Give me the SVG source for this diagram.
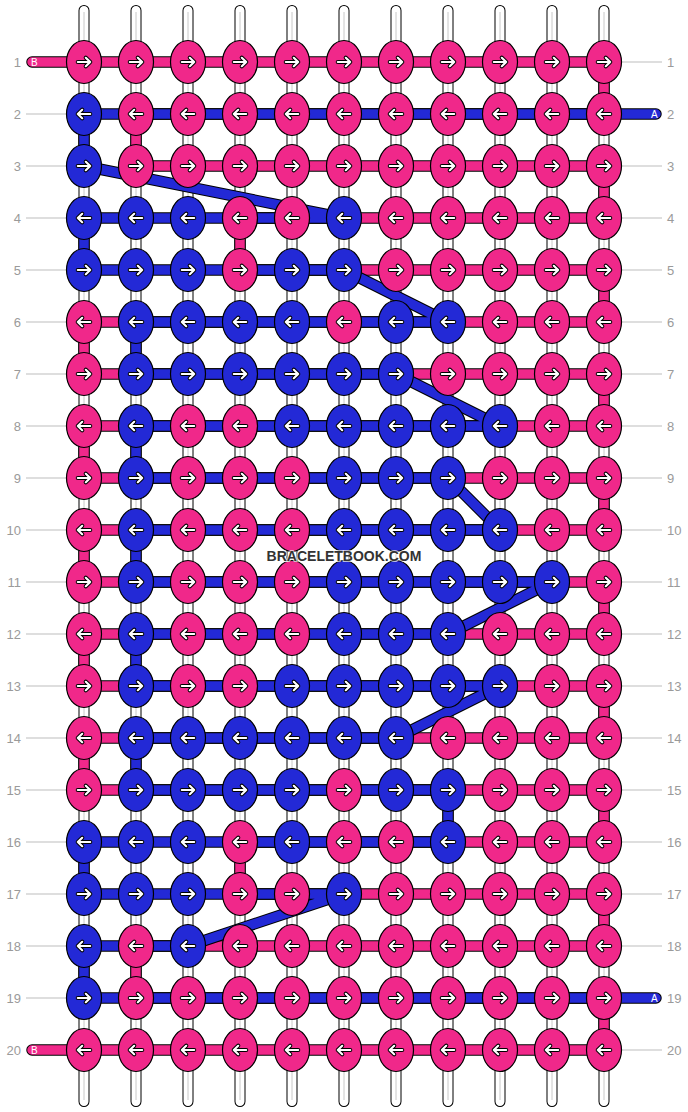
<svg xmlns="http://www.w3.org/2000/svg" xmlns:xlink="http://www.w3.org/1999/xlink" width="688" height="1112" viewBox="0 0 688 1112">
<style>
.sO{stroke:#000;stroke-width:11;stroke-linecap:round;fill:none}
.sW{stroke:#fff;stroke-width:9;stroke-linecap:round;fill:none}
.sG{stroke:#c8c8c8;stroke-width:1;fill:none}
.tO{stroke:#000;stroke-width:11.5;stroke-linecap:round;stroke-linejoin:round;fill:none}
.tP{stroke:#F0288A;stroke-width:9.5;stroke-linecap:round;stroke-linejoin:round;fill:none}
.tB{stroke:#2329D6;stroke-width:9.5;stroke-linecap:round;stroke-linejoin:round;fill:none}
.p{fill:#F0288A;stroke:#000;stroke-width:1.2}
.b{fill:#2329D6;stroke:#000;stroke-width:1.2}
.ll{stroke:#bdbdbd;stroke-width:1}
.lab{font-family:"Liberation Sans",Arial,sans-serif;font-size:13px;fill:#9a9a9a}
.tl{font-family:"Liberation Sans",Arial,sans-serif;font-size:10px;fill:#fff}
.wm{font-family:"Liberation Sans",Arial,sans-serif;font-size:14px;font-weight:bold;fill:#333;stroke:#fff;stroke-width:2;paint-order:stroke;stroke-opacity:0.7}
</style>
<defs>
<g id="ar">
<path d="M-6.2,0H6.2M1.8,-4.2L6.2,0L1.8,4.2" stroke="#000" stroke-width="4.2" fill="none" stroke-linecap="round" stroke-linejoin="round"/>
<path d="M-6.2,0H6.2M1.8,-4.2L6.2,0L1.8,4.2" stroke="#fff" stroke-width="2.2" fill="none" stroke-linecap="round" stroke-linejoin="round"/>
</g>
<g id="al"><use xlink:href="#ar" transform="scale(-1,1)"/></g>
</defs>
<rect width="688" height="1112" fill="#fff"/>
<g id="strings">
<path class="sO" d="M84,10.5V1101.5M136,10.5V1101.5M188,10.5V1101.5M240,10.5V1101.5M292,10.5V1101.5M344,10.5V1101.5M396,10.5V1101.5M448,10.5V1101.5M500,10.5V1101.5M552,10.5V1101.5M604,10.5V1101.5"/>
<path class="sW" d="M84,10.5V1101.5M136,10.5V1101.5M188,10.5V1101.5M240,10.5V1101.5M292,10.5V1101.5M344,10.5V1101.5M396,10.5V1101.5M448,10.5V1101.5M500,10.5V1101.5M552,10.5V1101.5M604,10.5V1101.5"/>
<path class="sG" d="M84,12V1100M136,12V1100M188,12V1100M240,12V1100M292,12V1100M344,12V1100M396,12V1100M448,12V1100M500,12V1100M552,12V1100M604,12V1100"/>
</g>
<g id="labels">
<path class="ll" d="M26,114H66M26,166H66M26,218H66M26,270H66M26,322H66M26,374H66M26,426H66M26,478H66M26,530H66M26,582H66M26,634H66M26,686H66M26,738H66M26,790H66M26,842H66M26,894H66M26,946H66M26,998H66"/>
<path class="ll" d="M622,62H662M622,166H662M622,218H662M622,270H662M622,322H662M622,374H662M622,426H662M622,478H662M622,530H662M622,582H662M622,634H662M622,686H662M622,738H662M622,790H662M622,842H662M622,894H662M622,946H662M622,1050H662"/>
<g class="lab" text-anchor="end">
<text x="21" y="67">1</text><text x="21" y="119">2</text><text x="21" y="171">3</text><text x="21" y="223">4</text><text x="21" y="275">5</text><text x="21" y="327">6</text><text x="21" y="379">7</text><text x="21" y="431">8</text><text x="21" y="483">9</text><text x="21" y="535">10</text><text x="21" y="587">11</text><text x="21" y="639">12</text><text x="21" y="691">13</text><text x="21" y="743">14</text><text x="21" y="795">15</text><text x="21" y="847">16</text><text x="21" y="899">17</text><text x="21" y="951">18</text><text x="21" y="1003">19</text><text x="21" y="1055">20</text>
</g>
<g class="lab">
<text x="667" y="67">1</text><text x="667" y="119">2</text><text x="667" y="171">3</text><text x="667" y="223">4</text><text x="667" y="275">5</text><text x="667" y="327">6</text><text x="667" y="379">7</text><text x="667" y="431">8</text><text x="667" y="483">9</text><text x="667" y="535">10</text><text x="667" y="587">11</text><text x="667" y="639">12</text><text x="667" y="691">13</text><text x="667" y="743">14</text><text x="667" y="795">15</text><text x="667" y="847">16</text><text x="667" y="899">17</text><text x="667" y="951">18</text><text x="667" y="1003">19</text><text x="667" y="1055">20</text>
</g>
</g>
<g id="connectors">
<polyline id="threadB-outline" class="tO" points="32,62 604,62 604,114 136,114 136,166 604,166 604,218 240,218 240,270 604,270 604,322 84,322 84,374 604,374 604,426 84,426 84,478 604,478 604,530 84,530 84,582 604,582 604,634 84,634 84,686 604,686 604,738 84,738 84,790 604,790 604,842 240,842 240,894 604,894 604,946 136,946 136,998 604,998 604,1050 32,1050"/>
<polyline id="threadB" class="tP" points="32,62 604,62 604,114 136,114 136,166 604,166 604,218 240,218 240,270 604,270 604,322 84,322 84,374 604,374 604,426 84,426 84,478 604,478 604,530 84,530 84,582 604,582 604,634 84,634 84,686 604,686 604,738 84,738 84,790 604,790 604,842 240,842 240,894 604,894 604,946 136,946 136,998 604,998 604,1050 32,1050"/>
<polyline id="threadA-outline" class="tO" points="656,114 84,114 84,166 344,218 84,218 84,270 344,270 448,322 136,322 136,374 396,374 500,426 136,426 136,478 448,478 500,530 136,530 136,582 552,582 448,634 136,634 136,686 500,686 396,738 136,738 136,790 448,790 448,842 84,842 84,894 344,894 188,946 84,946 84,998 656,998"/>
<polyline id="threadA" class="tB" points="656,114 84,114 84,166 344,218 84,218 84,270 344,270 448,322 136,322 136,374 396,374 500,426 136,426 136,478 448,478 500,530 136,530 136,582 552,582 448,634 136,634 136,686 500,686 396,738 136,738 136,790 448,790 448,842 84,842 84,894 344,894 188,946 84,946 84,998 656,998"/>
<text class="tl" x="31" y="66">B</text>
<text class="tl" x="31" y="1054">B</text>
<text class="tl" x="651" y="118">A</text>
<text class="tl" x="651" y="1002">A</text>
</g>
<g id="knots">
<g id="k1-1" transform="translate(84,62)"><ellipse class="p" rx="17.5" ry="21.5"/><use xlink:href="#ar"/></g>
<g id="k1-2" transform="translate(136,62)"><ellipse class="p" rx="17.5" ry="21.5"/><use xlink:href="#ar"/></g>
<g id="k1-3" transform="translate(188,62)"><ellipse class="p" rx="17.5" ry="21.5"/><use xlink:href="#ar"/></g>
<g id="k1-4" transform="translate(240,62)"><ellipse class="p" rx="17.5" ry="21.5"/><use xlink:href="#ar"/></g>
<g id="k1-5" transform="translate(292,62)"><ellipse class="p" rx="17.5" ry="21.5"/><use xlink:href="#ar"/></g>
<g id="k1-6" transform="translate(344,62)"><ellipse class="p" rx="17.5" ry="21.5"/><use xlink:href="#ar"/></g>
<g id="k1-7" transform="translate(396,62)"><ellipse class="p" rx="17.5" ry="21.5"/><use xlink:href="#ar"/></g>
<g id="k1-8" transform="translate(448,62)"><ellipse class="p" rx="17.5" ry="21.5"/><use xlink:href="#ar"/></g>
<g id="k1-9" transform="translate(500,62)"><ellipse class="p" rx="17.5" ry="21.5"/><use xlink:href="#ar"/></g>
<g id="k1-10" transform="translate(552,62)"><ellipse class="p" rx="17.5" ry="21.5"/><use xlink:href="#ar"/></g>
<g id="k1-11" transform="translate(604,62)"><ellipse class="p" rx="17.5" ry="21.5"/><use xlink:href="#ar"/></g>
<g id="k2-1" transform="translate(84,114)"><ellipse class="b" rx="17.5" ry="21.5"/><use xlink:href="#al"/></g>
<g id="k2-2" transform="translate(136,114)"><ellipse class="p" rx="17.5" ry="21.5"/><use xlink:href="#al"/></g>
<g id="k2-3" transform="translate(188,114)"><ellipse class="p" rx="17.5" ry="21.5"/><use xlink:href="#al"/></g>
<g id="k2-4" transform="translate(240,114)"><ellipse class="p" rx="17.5" ry="21.5"/><use xlink:href="#al"/></g>
<g id="k2-5" transform="translate(292,114)"><ellipse class="p" rx="17.5" ry="21.5"/><use xlink:href="#al"/></g>
<g id="k2-6" transform="translate(344,114)"><ellipse class="p" rx="17.5" ry="21.5"/><use xlink:href="#al"/></g>
<g id="k2-7" transform="translate(396,114)"><ellipse class="p" rx="17.5" ry="21.5"/><use xlink:href="#al"/></g>
<g id="k2-8" transform="translate(448,114)"><ellipse class="p" rx="17.5" ry="21.5"/><use xlink:href="#al"/></g>
<g id="k2-9" transform="translate(500,114)"><ellipse class="p" rx="17.5" ry="21.5"/><use xlink:href="#al"/></g>
<g id="k2-10" transform="translate(552,114)"><ellipse class="p" rx="17.5" ry="21.5"/><use xlink:href="#al"/></g>
<g id="k2-11" transform="translate(604,114)"><ellipse class="p" rx="17.5" ry="21.5"/><use xlink:href="#al"/></g>
<g id="k3-1" transform="translate(84,166)"><ellipse class="b" rx="17.5" ry="21.5"/><use xlink:href="#ar"/></g>
<g id="k3-2" transform="translate(136,166)"><ellipse class="p" rx="17.5" ry="21.5"/><use xlink:href="#ar"/></g>
<g id="k3-3" transform="translate(188,166)"><ellipse class="p" rx="17.5" ry="21.5"/><use xlink:href="#ar"/></g>
<g id="k3-4" transform="translate(240,166)"><ellipse class="p" rx="17.5" ry="21.5"/><use xlink:href="#ar"/></g>
<g id="k3-5" transform="translate(292,166)"><ellipse class="p" rx="17.5" ry="21.5"/><use xlink:href="#ar"/></g>
<g id="k3-6" transform="translate(344,166)"><ellipse class="p" rx="17.5" ry="21.5"/><use xlink:href="#ar"/></g>
<g id="k3-7" transform="translate(396,166)"><ellipse class="p" rx="17.5" ry="21.5"/><use xlink:href="#ar"/></g>
<g id="k3-8" transform="translate(448,166)"><ellipse class="p" rx="17.5" ry="21.5"/><use xlink:href="#ar"/></g>
<g id="k3-9" transform="translate(500,166)"><ellipse class="p" rx="17.5" ry="21.5"/><use xlink:href="#ar"/></g>
<g id="k3-10" transform="translate(552,166)"><ellipse class="p" rx="17.5" ry="21.5"/><use xlink:href="#ar"/></g>
<g id="k3-11" transform="translate(604,166)"><ellipse class="p" rx="17.5" ry="21.5"/><use xlink:href="#ar"/></g>
<g id="k4-1" transform="translate(84,218)"><ellipse class="b" rx="17.5" ry="21.5"/><use xlink:href="#al"/></g>
<g id="k4-2" transform="translate(136,218)"><ellipse class="b" rx="17.5" ry="21.5"/><use xlink:href="#al"/></g>
<g id="k4-3" transform="translate(188,218)"><ellipse class="b" rx="17.5" ry="21.5"/><use xlink:href="#al"/></g>
<g id="k4-4" transform="translate(240,218)"><ellipse class="p" rx="17.5" ry="21.5"/><use xlink:href="#al"/></g>
<g id="k4-5" transform="translate(292,218)"><ellipse class="p" rx="17.5" ry="21.5"/><use xlink:href="#al"/></g>
<g id="k4-6" transform="translate(344,218)"><ellipse class="b" rx="17.5" ry="21.5"/><use xlink:href="#al"/></g>
<g id="k4-7" transform="translate(396,218)"><ellipse class="p" rx="17.5" ry="21.5"/><use xlink:href="#al"/></g>
<g id="k4-8" transform="translate(448,218)"><ellipse class="p" rx="17.5" ry="21.5"/><use xlink:href="#al"/></g>
<g id="k4-9" transform="translate(500,218)"><ellipse class="p" rx="17.5" ry="21.5"/><use xlink:href="#al"/></g>
<g id="k4-10" transform="translate(552,218)"><ellipse class="p" rx="17.5" ry="21.5"/><use xlink:href="#al"/></g>
<g id="k4-11" transform="translate(604,218)"><ellipse class="p" rx="17.5" ry="21.5"/><use xlink:href="#al"/></g>
<g id="k5-1" transform="translate(84,270)"><ellipse class="b" rx="17.5" ry="21.5"/><use xlink:href="#ar"/></g>
<g id="k5-2" transform="translate(136,270)"><ellipse class="b" rx="17.5" ry="21.5"/><use xlink:href="#ar"/></g>
<g id="k5-3" transform="translate(188,270)"><ellipse class="b" rx="17.5" ry="21.5"/><use xlink:href="#ar"/></g>
<g id="k5-4" transform="translate(240,270)"><ellipse class="p" rx="17.5" ry="21.5"/><use xlink:href="#ar"/></g>
<g id="k5-5" transform="translate(292,270)"><ellipse class="b" rx="17.5" ry="21.5"/><use xlink:href="#ar"/></g>
<g id="k5-6" transform="translate(344,270)"><ellipse class="b" rx="17.5" ry="21.5"/><use xlink:href="#ar"/></g>
<g id="k5-7" transform="translate(396,270)"><ellipse class="p" rx="17.5" ry="21.5"/><use xlink:href="#ar"/></g>
<g id="k5-8" transform="translate(448,270)"><ellipse class="p" rx="17.5" ry="21.5"/><use xlink:href="#ar"/></g>
<g id="k5-9" transform="translate(500,270)"><ellipse class="p" rx="17.5" ry="21.5"/><use xlink:href="#ar"/></g>
<g id="k5-10" transform="translate(552,270)"><ellipse class="p" rx="17.5" ry="21.5"/><use xlink:href="#ar"/></g>
<g id="k5-11" transform="translate(604,270)"><ellipse class="p" rx="17.5" ry="21.5"/><use xlink:href="#ar"/></g>
<g id="k6-1" transform="translate(84,322)"><ellipse class="p" rx="17.5" ry="21.5"/><use xlink:href="#al"/></g>
<g id="k6-2" transform="translate(136,322)"><ellipse class="b" rx="17.5" ry="21.5"/><use xlink:href="#al"/></g>
<g id="k6-3" transform="translate(188,322)"><ellipse class="b" rx="17.5" ry="21.5"/><use xlink:href="#al"/></g>
<g id="k6-4" transform="translate(240,322)"><ellipse class="b" rx="17.5" ry="21.5"/><use xlink:href="#al"/></g>
<g id="k6-5" transform="translate(292,322)"><ellipse class="b" rx="17.5" ry="21.5"/><use xlink:href="#al"/></g>
<g id="k6-6" transform="translate(344,322)"><ellipse class="p" rx="17.5" ry="21.5"/><use xlink:href="#al"/></g>
<g id="k6-7" transform="translate(396,322)"><ellipse class="b" rx="17.5" ry="21.5"/><use xlink:href="#al"/></g>
<g id="k6-8" transform="translate(448,322)"><ellipse class="b" rx="17.5" ry="21.5"/><use xlink:href="#al"/></g>
<g id="k6-9" transform="translate(500,322)"><ellipse class="p" rx="17.5" ry="21.5"/><use xlink:href="#al"/></g>
<g id="k6-10" transform="translate(552,322)"><ellipse class="p" rx="17.5" ry="21.5"/><use xlink:href="#al"/></g>
<g id="k6-11" transform="translate(604,322)"><ellipse class="p" rx="17.5" ry="21.5"/><use xlink:href="#al"/></g>
<g id="k7-1" transform="translate(84,374)"><ellipse class="p" rx="17.5" ry="21.5"/><use xlink:href="#ar"/></g>
<g id="k7-2" transform="translate(136,374)"><ellipse class="b" rx="17.5" ry="21.5"/><use xlink:href="#ar"/></g>
<g id="k7-3" transform="translate(188,374)"><ellipse class="b" rx="17.5" ry="21.5"/><use xlink:href="#ar"/></g>
<g id="k7-4" transform="translate(240,374)"><ellipse class="b" rx="17.5" ry="21.5"/><use xlink:href="#ar"/></g>
<g id="k7-5" transform="translate(292,374)"><ellipse class="b" rx="17.5" ry="21.5"/><use xlink:href="#ar"/></g>
<g id="k7-6" transform="translate(344,374)"><ellipse class="b" rx="17.5" ry="21.5"/><use xlink:href="#ar"/></g>
<g id="k7-7" transform="translate(396,374)"><ellipse class="b" rx="17.5" ry="21.5"/><use xlink:href="#ar"/></g>
<g id="k7-8" transform="translate(448,374)"><ellipse class="p" rx="17.5" ry="21.5"/><use xlink:href="#ar"/></g>
<g id="k7-9" transform="translate(500,374)"><ellipse class="p" rx="17.5" ry="21.5"/><use xlink:href="#ar"/></g>
<g id="k7-10" transform="translate(552,374)"><ellipse class="p" rx="17.5" ry="21.5"/><use xlink:href="#ar"/></g>
<g id="k7-11" transform="translate(604,374)"><ellipse class="p" rx="17.5" ry="21.5"/><use xlink:href="#ar"/></g>
<g id="k8-1" transform="translate(84,426)"><ellipse class="p" rx="17.5" ry="21.5"/><use xlink:href="#al"/></g>
<g id="k8-2" transform="translate(136,426)"><ellipse class="b" rx="17.5" ry="21.5"/><use xlink:href="#al"/></g>
<g id="k8-3" transform="translate(188,426)"><ellipse class="p" rx="17.5" ry="21.5"/><use xlink:href="#al"/></g>
<g id="k8-4" transform="translate(240,426)"><ellipse class="p" rx="17.5" ry="21.5"/><use xlink:href="#al"/></g>
<g id="k8-5" transform="translate(292,426)"><ellipse class="b" rx="17.5" ry="21.5"/><use xlink:href="#al"/></g>
<g id="k8-6" transform="translate(344,426)"><ellipse class="b" rx="17.5" ry="21.5"/><use xlink:href="#al"/></g>
<g id="k8-7" transform="translate(396,426)"><ellipse class="b" rx="17.5" ry="21.5"/><use xlink:href="#al"/></g>
<g id="k8-8" transform="translate(448,426)"><ellipse class="b" rx="17.5" ry="21.5"/><use xlink:href="#al"/></g>
<g id="k8-9" transform="translate(500,426)"><ellipse class="b" rx="17.5" ry="21.5"/><use xlink:href="#al"/></g>
<g id="k8-10" transform="translate(552,426)"><ellipse class="p" rx="17.5" ry="21.5"/><use xlink:href="#al"/></g>
<g id="k8-11" transform="translate(604,426)"><ellipse class="p" rx="17.5" ry="21.5"/><use xlink:href="#al"/></g>
<g id="k9-1" transform="translate(84,478)"><ellipse class="p" rx="17.5" ry="21.5"/><use xlink:href="#ar"/></g>
<g id="k9-2" transform="translate(136,478)"><ellipse class="b" rx="17.5" ry="21.5"/><use xlink:href="#ar"/></g>
<g id="k9-3" transform="translate(188,478)"><ellipse class="p" rx="17.5" ry="21.5"/><use xlink:href="#ar"/></g>
<g id="k9-4" transform="translate(240,478)"><ellipse class="p" rx="17.5" ry="21.5"/><use xlink:href="#ar"/></g>
<g id="k9-5" transform="translate(292,478)"><ellipse class="p" rx="17.5" ry="21.5"/><use xlink:href="#ar"/></g>
<g id="k9-6" transform="translate(344,478)"><ellipse class="b" rx="17.5" ry="21.5"/><use xlink:href="#ar"/></g>
<g id="k9-7" transform="translate(396,478)"><ellipse class="b" rx="17.5" ry="21.5"/><use xlink:href="#ar"/></g>
<g id="k9-8" transform="translate(448,478)"><ellipse class="b" rx="17.5" ry="21.5"/><use xlink:href="#ar"/></g>
<g id="k9-9" transform="translate(500,478)"><ellipse class="p" rx="17.5" ry="21.5"/><use xlink:href="#ar"/></g>
<g id="k9-10" transform="translate(552,478)"><ellipse class="p" rx="17.5" ry="21.5"/><use xlink:href="#ar"/></g>
<g id="k9-11" transform="translate(604,478)"><ellipse class="p" rx="17.5" ry="21.5"/><use xlink:href="#ar"/></g>
<g id="k10-1" transform="translate(84,530)"><ellipse class="p" rx="17.5" ry="21.5"/><use xlink:href="#al"/></g>
<g id="k10-2" transform="translate(136,530)"><ellipse class="b" rx="17.5" ry="21.5"/><use xlink:href="#al"/></g>
<g id="k10-3" transform="translate(188,530)"><ellipse class="p" rx="17.5" ry="21.5"/><use xlink:href="#al"/></g>
<g id="k10-4" transform="translate(240,530)"><ellipse class="p" rx="17.5" ry="21.5"/><use xlink:href="#al"/></g>
<g id="k10-5" transform="translate(292,530)"><ellipse class="p" rx="17.5" ry="21.5"/><use xlink:href="#al"/></g>
<g id="k10-6" transform="translate(344,530)"><ellipse class="b" rx="17.5" ry="21.5"/><use xlink:href="#al"/></g>
<g id="k10-7" transform="translate(396,530)"><ellipse class="b" rx="17.5" ry="21.5"/><use xlink:href="#al"/></g>
<g id="k10-8" transform="translate(448,530)"><ellipse class="b" rx="17.5" ry="21.5"/><use xlink:href="#al"/></g>
<g id="k10-9" transform="translate(500,530)"><ellipse class="b" rx="17.5" ry="21.5"/><use xlink:href="#al"/></g>
<g id="k10-10" transform="translate(552,530)"><ellipse class="p" rx="17.5" ry="21.5"/><use xlink:href="#al"/></g>
<g id="k10-11" transform="translate(604,530)"><ellipse class="p" rx="17.5" ry="21.5"/><use xlink:href="#al"/></g>
<g id="k11-1" transform="translate(84,582)"><ellipse class="p" rx="17.5" ry="21.5"/><use xlink:href="#ar"/></g>
<g id="k11-2" transform="translate(136,582)"><ellipse class="b" rx="17.5" ry="21.5"/><use xlink:href="#ar"/></g>
<g id="k11-3" transform="translate(188,582)"><ellipse class="p" rx="17.5" ry="21.5"/><use xlink:href="#ar"/></g>
<g id="k11-4" transform="translate(240,582)"><ellipse class="p" rx="17.5" ry="21.5"/><use xlink:href="#ar"/></g>
<g id="k11-5" transform="translate(292,582)"><ellipse class="p" rx="17.5" ry="21.5"/><use xlink:href="#ar"/></g>
<g id="k11-6" transform="translate(344,582)"><ellipse class="b" rx="17.5" ry="21.5"/><use xlink:href="#ar"/></g>
<g id="k11-7" transform="translate(396,582)"><ellipse class="b" rx="17.5" ry="21.5"/><use xlink:href="#ar"/></g>
<g id="k11-8" transform="translate(448,582)"><ellipse class="b" rx="17.5" ry="21.5"/><use xlink:href="#ar"/></g>
<g id="k11-9" transform="translate(500,582)"><ellipse class="b" rx="17.5" ry="21.5"/><use xlink:href="#ar"/></g>
<g id="k11-10" transform="translate(552,582)"><ellipse class="b" rx="17.5" ry="21.5"/><use xlink:href="#ar"/></g>
<g id="k11-11" transform="translate(604,582)"><ellipse class="p" rx="17.5" ry="21.5"/><use xlink:href="#ar"/></g>
<g id="k12-1" transform="translate(84,634)"><ellipse class="p" rx="17.5" ry="21.5"/><use xlink:href="#al"/></g>
<g id="k12-2" transform="translate(136,634)"><ellipse class="b" rx="17.5" ry="21.5"/><use xlink:href="#al"/></g>
<g id="k12-3" transform="translate(188,634)"><ellipse class="p" rx="17.5" ry="21.5"/><use xlink:href="#al"/></g>
<g id="k12-4" transform="translate(240,634)"><ellipse class="p" rx="17.5" ry="21.5"/><use xlink:href="#al"/></g>
<g id="k12-5" transform="translate(292,634)"><ellipse class="p" rx="17.5" ry="21.5"/><use xlink:href="#al"/></g>
<g id="k12-6" transform="translate(344,634)"><ellipse class="b" rx="17.5" ry="21.5"/><use xlink:href="#al"/></g>
<g id="k12-7" transform="translate(396,634)"><ellipse class="b" rx="17.5" ry="21.5"/><use xlink:href="#al"/></g>
<g id="k12-8" transform="translate(448,634)"><ellipse class="b" rx="17.5" ry="21.5"/><use xlink:href="#al"/></g>
<g id="k12-9" transform="translate(500,634)"><ellipse class="p" rx="17.5" ry="21.5"/><use xlink:href="#al"/></g>
<g id="k12-10" transform="translate(552,634)"><ellipse class="p" rx="17.5" ry="21.5"/><use xlink:href="#al"/></g>
<g id="k12-11" transform="translate(604,634)"><ellipse class="p" rx="17.5" ry="21.5"/><use xlink:href="#al"/></g>
<g id="k13-1" transform="translate(84,686)"><ellipse class="p" rx="17.5" ry="21.5"/><use xlink:href="#ar"/></g>
<g id="k13-2" transform="translate(136,686)"><ellipse class="b" rx="17.5" ry="21.5"/><use xlink:href="#ar"/></g>
<g id="k13-3" transform="translate(188,686)"><ellipse class="p" rx="17.5" ry="21.5"/><use xlink:href="#ar"/></g>
<g id="k13-4" transform="translate(240,686)"><ellipse class="p" rx="17.5" ry="21.5"/><use xlink:href="#ar"/></g>
<g id="k13-5" transform="translate(292,686)"><ellipse class="b" rx="17.5" ry="21.5"/><use xlink:href="#ar"/></g>
<g id="k13-6" transform="translate(344,686)"><ellipse class="b" rx="17.5" ry="21.5"/><use xlink:href="#ar"/></g>
<g id="k13-7" transform="translate(396,686)"><ellipse class="b" rx="17.5" ry="21.5"/><use xlink:href="#ar"/></g>
<g id="k13-8" transform="translate(448,686)"><ellipse class="b" rx="17.5" ry="21.5"/><use xlink:href="#ar"/></g>
<g id="k13-9" transform="translate(500,686)"><ellipse class="b" rx="17.5" ry="21.5"/><use xlink:href="#ar"/></g>
<g id="k13-10" transform="translate(552,686)"><ellipse class="p" rx="17.5" ry="21.5"/><use xlink:href="#ar"/></g>
<g id="k13-11" transform="translate(604,686)"><ellipse class="p" rx="17.5" ry="21.5"/><use xlink:href="#ar"/></g>
<g id="k14-1" transform="translate(84,738)"><ellipse class="p" rx="17.5" ry="21.5"/><use xlink:href="#al"/></g>
<g id="k14-2" transform="translate(136,738)"><ellipse class="b" rx="17.5" ry="21.5"/><use xlink:href="#al"/></g>
<g id="k14-3" transform="translate(188,738)"><ellipse class="b" rx="17.5" ry="21.5"/><use xlink:href="#al"/></g>
<g id="k14-4" transform="translate(240,738)"><ellipse class="b" rx="17.5" ry="21.5"/><use xlink:href="#al"/></g>
<g id="k14-5" transform="translate(292,738)"><ellipse class="b" rx="17.5" ry="21.5"/><use xlink:href="#al"/></g>
<g id="k14-6" transform="translate(344,738)"><ellipse class="b" rx="17.5" ry="21.5"/><use xlink:href="#al"/></g>
<g id="k14-7" transform="translate(396,738)"><ellipse class="b" rx="17.5" ry="21.5"/><use xlink:href="#al"/></g>
<g id="k14-8" transform="translate(448,738)"><ellipse class="p" rx="17.5" ry="21.5"/><use xlink:href="#al"/></g>
<g id="k14-9" transform="translate(500,738)"><ellipse class="p" rx="17.5" ry="21.5"/><use xlink:href="#al"/></g>
<g id="k14-10" transform="translate(552,738)"><ellipse class="p" rx="17.5" ry="21.5"/><use xlink:href="#al"/></g>
<g id="k14-11" transform="translate(604,738)"><ellipse class="p" rx="17.5" ry="21.5"/><use xlink:href="#al"/></g>
<g id="k15-1" transform="translate(84,790)"><ellipse class="p" rx="17.5" ry="21.5"/><use xlink:href="#ar"/></g>
<g id="k15-2" transform="translate(136,790)"><ellipse class="b" rx="17.5" ry="21.5"/><use xlink:href="#ar"/></g>
<g id="k15-3" transform="translate(188,790)"><ellipse class="b" rx="17.5" ry="21.5"/><use xlink:href="#ar"/></g>
<g id="k15-4" transform="translate(240,790)"><ellipse class="b" rx="17.5" ry="21.5"/><use xlink:href="#ar"/></g>
<g id="k15-5" transform="translate(292,790)"><ellipse class="b" rx="17.5" ry="21.5"/><use xlink:href="#ar"/></g>
<g id="k15-6" transform="translate(344,790)"><ellipse class="p" rx="17.5" ry="21.5"/><use xlink:href="#ar"/></g>
<g id="k15-7" transform="translate(396,790)"><ellipse class="b" rx="17.5" ry="21.5"/><use xlink:href="#ar"/></g>
<g id="k15-8" transform="translate(448,790)"><ellipse class="b" rx="17.5" ry="21.5"/><use xlink:href="#ar"/></g>
<g id="k15-9" transform="translate(500,790)"><ellipse class="p" rx="17.5" ry="21.5"/><use xlink:href="#ar"/></g>
<g id="k15-10" transform="translate(552,790)"><ellipse class="p" rx="17.5" ry="21.5"/><use xlink:href="#ar"/></g>
<g id="k15-11" transform="translate(604,790)"><ellipse class="p" rx="17.5" ry="21.5"/><use xlink:href="#ar"/></g>
<g id="k16-1" transform="translate(84,842)"><ellipse class="b" rx="17.5" ry="21.5"/><use xlink:href="#al"/></g>
<g id="k16-2" transform="translate(136,842)"><ellipse class="b" rx="17.5" ry="21.5"/><use xlink:href="#al"/></g>
<g id="k16-3" transform="translate(188,842)"><ellipse class="b" rx="17.5" ry="21.5"/><use xlink:href="#al"/></g>
<g id="k16-4" transform="translate(240,842)"><ellipse class="p" rx="17.5" ry="21.5"/><use xlink:href="#al"/></g>
<g id="k16-5" transform="translate(292,842)"><ellipse class="b" rx="17.5" ry="21.5"/><use xlink:href="#al"/></g>
<g id="k16-6" transform="translate(344,842)"><ellipse class="p" rx="17.5" ry="21.5"/><use xlink:href="#al"/></g>
<g id="k16-7" transform="translate(396,842)"><ellipse class="p" rx="17.5" ry="21.5"/><use xlink:href="#al"/></g>
<g id="k16-8" transform="translate(448,842)"><ellipse class="b" rx="17.5" ry="21.5"/><use xlink:href="#al"/></g>
<g id="k16-9" transform="translate(500,842)"><ellipse class="p" rx="17.5" ry="21.5"/><use xlink:href="#al"/></g>
<g id="k16-10" transform="translate(552,842)"><ellipse class="p" rx="17.5" ry="21.5"/><use xlink:href="#al"/></g>
<g id="k16-11" transform="translate(604,842)"><ellipse class="p" rx="17.5" ry="21.5"/><use xlink:href="#al"/></g>
<g id="k17-1" transform="translate(84,894)"><ellipse class="b" rx="17.5" ry="21.5"/><use xlink:href="#ar"/></g>
<g id="k17-2" transform="translate(136,894)"><ellipse class="b" rx="17.5" ry="21.5"/><use xlink:href="#ar"/></g>
<g id="k17-3" transform="translate(188,894)"><ellipse class="b" rx="17.5" ry="21.5"/><use xlink:href="#ar"/></g>
<g id="k17-4" transform="translate(240,894)"><ellipse class="p" rx="17.5" ry="21.5"/><use xlink:href="#ar"/></g>
<g id="k17-5" transform="translate(292,894)"><ellipse class="p" rx="17.5" ry="21.5"/><use xlink:href="#ar"/></g>
<g id="k17-6" transform="translate(344,894)"><ellipse class="b" rx="17.5" ry="21.5"/><use xlink:href="#ar"/></g>
<g id="k17-7" transform="translate(396,894)"><ellipse class="p" rx="17.5" ry="21.5"/><use xlink:href="#ar"/></g>
<g id="k17-8" transform="translate(448,894)"><ellipse class="p" rx="17.5" ry="21.5"/><use xlink:href="#ar"/></g>
<g id="k17-9" transform="translate(500,894)"><ellipse class="p" rx="17.5" ry="21.5"/><use xlink:href="#ar"/></g>
<g id="k17-10" transform="translate(552,894)"><ellipse class="p" rx="17.5" ry="21.5"/><use xlink:href="#ar"/></g>
<g id="k17-11" transform="translate(604,894)"><ellipse class="p" rx="17.5" ry="21.5"/><use xlink:href="#ar"/></g>
<g id="k18-1" transform="translate(84,946)"><ellipse class="b" rx="17.5" ry="21.5"/><use xlink:href="#al"/></g>
<g id="k18-2" transform="translate(136,946)"><ellipse class="p" rx="17.5" ry="21.5"/><use xlink:href="#al"/></g>
<g id="k18-3" transform="translate(188,946)"><ellipse class="b" rx="17.5" ry="21.5"/><use xlink:href="#al"/></g>
<g id="k18-4" transform="translate(240,946)"><ellipse class="p" rx="17.5" ry="21.5"/><use xlink:href="#al"/></g>
<g id="k18-5" transform="translate(292,946)"><ellipse class="p" rx="17.5" ry="21.5"/><use xlink:href="#al"/></g>
<g id="k18-6" transform="translate(344,946)"><ellipse class="p" rx="17.5" ry="21.5"/><use xlink:href="#al"/></g>
<g id="k18-7" transform="translate(396,946)"><ellipse class="p" rx="17.5" ry="21.5"/><use xlink:href="#al"/></g>
<g id="k18-8" transform="translate(448,946)"><ellipse class="p" rx="17.5" ry="21.5"/><use xlink:href="#al"/></g>
<g id="k18-9" transform="translate(500,946)"><ellipse class="p" rx="17.5" ry="21.5"/><use xlink:href="#al"/></g>
<g id="k18-10" transform="translate(552,946)"><ellipse class="p" rx="17.5" ry="21.5"/><use xlink:href="#al"/></g>
<g id="k18-11" transform="translate(604,946)"><ellipse class="p" rx="17.5" ry="21.5"/><use xlink:href="#al"/></g>
<g id="k19-1" transform="translate(84,998)"><ellipse class="b" rx="17.5" ry="21.5"/><use xlink:href="#ar"/></g>
<g id="k19-2" transform="translate(136,998)"><ellipse class="p" rx="17.5" ry="21.5"/><use xlink:href="#ar"/></g>
<g id="k19-3" transform="translate(188,998)"><ellipse class="p" rx="17.5" ry="21.5"/><use xlink:href="#ar"/></g>
<g id="k19-4" transform="translate(240,998)"><ellipse class="p" rx="17.5" ry="21.5"/><use xlink:href="#ar"/></g>
<g id="k19-5" transform="translate(292,998)"><ellipse class="p" rx="17.5" ry="21.5"/><use xlink:href="#ar"/></g>
<g id="k19-6" transform="translate(344,998)"><ellipse class="p" rx="17.5" ry="21.5"/><use xlink:href="#ar"/></g>
<g id="k19-7" transform="translate(396,998)"><ellipse class="p" rx="17.5" ry="21.5"/><use xlink:href="#ar"/></g>
<g id="k19-8" transform="translate(448,998)"><ellipse class="p" rx="17.5" ry="21.5"/><use xlink:href="#ar"/></g>
<g id="k19-9" transform="translate(500,998)"><ellipse class="p" rx="17.5" ry="21.5"/><use xlink:href="#ar"/></g>
<g id="k19-10" transform="translate(552,998)"><ellipse class="p" rx="17.5" ry="21.5"/><use xlink:href="#ar"/></g>
<g id="k19-11" transform="translate(604,998)"><ellipse class="p" rx="17.5" ry="21.5"/><use xlink:href="#ar"/></g>
<g id="k20-1" transform="translate(84,1050)"><ellipse class="p" rx="17.5" ry="21.5"/><use xlink:href="#al"/></g>
<g id="k20-2" transform="translate(136,1050)"><ellipse class="p" rx="17.5" ry="21.5"/><use xlink:href="#al"/></g>
<g id="k20-3" transform="translate(188,1050)"><ellipse class="p" rx="17.5" ry="21.5"/><use xlink:href="#al"/></g>
<g id="k20-4" transform="translate(240,1050)"><ellipse class="p" rx="17.5" ry="21.5"/><use xlink:href="#al"/></g>
<g id="k20-5" transform="translate(292,1050)"><ellipse class="p" rx="17.5" ry="21.5"/><use xlink:href="#al"/></g>
<g id="k20-6" transform="translate(344,1050)"><ellipse class="p" rx="17.5" ry="21.5"/><use xlink:href="#al"/></g>
<g id="k20-7" transform="translate(396,1050)"><ellipse class="p" rx="17.5" ry="21.5"/><use xlink:href="#al"/></g>
<g id="k20-8" transform="translate(448,1050)"><ellipse class="p" rx="17.5" ry="21.5"/><use xlink:href="#al"/></g>
<g id="k20-9" transform="translate(500,1050)"><ellipse class="p" rx="17.5" ry="21.5"/><use xlink:href="#al"/></g>
<g id="k20-10" transform="translate(552,1050)"><ellipse class="p" rx="17.5" ry="21.5"/><use xlink:href="#al"/></g>
<g id="k20-11" transform="translate(604,1050)"><ellipse class="p" rx="17.5" ry="21.5"/><use xlink:href="#al"/></g>
</g>
<text id="watermark" class="wm" x="344" y="561" text-anchor="middle">BRACELETBOOK.COM</text>
</svg>
